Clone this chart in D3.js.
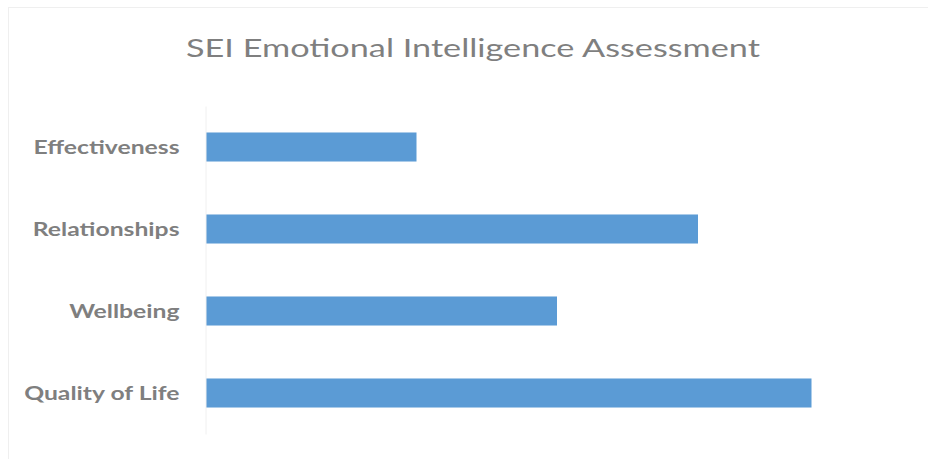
<!DOCTYPE html>
<html>
<head>
<meta charset="utf-8">
<script src="https://cdn.jsdelivr.net/npm/d3@7/dist/d3.min.js"></script>
<style>
  body { margin: 0; background: #fff; }
  text { font-family: Lato, "Open Sans", sans-serif; }
</style>
</head>
<body>
<div class="chart"></div>
<script>
// data (no axis ticks shown, so units are relative)
var categories = ["Effectiveness", "Relationships", "Wellbeing", "Quality of Life"];
var scores = [42.1, 98.4, 70.2, 121.1];

var svgWidth = 928;
var svgHeight = 459;

var margin = { top: 106, right: 22, bottom: 25, left: 206 };
var chartWidth = svgWidth - margin.left - margin.right;
var chartHeight = svgHeight - margin.top - margin.bottom;

var svg = d3.select(".chart")
  .append("svg")
  .attr("width", svgWidth)
  .attr("height", svgHeight);

// faint chart frame
svg.append("rect")
  .attr("x", 8.5)
  .attr("y", 7.5)
  .attr("width", 940)
  .attr("height", 470)
  .attr("fill", "none")
  .attr("stroke", "#efefef");

// title
svg.append("text")
  .attr("x", 473)
  .attr("y", 57)
  .attr("text-anchor", "middle")
  .attr("fill", "#7f7f7f")
  .style("font-size", "24.5px")
  .attr("textLength", 574)
  .attr("lengthAdjust", "spacingAndGlyphs")
  .text("SEI Emotional Intelligence Assessment");

var chartGroup = svg.append("g")
  .attr("transform", `translate(${margin.left}, ${margin.top})`);

var xScale = d3.scaleLinear()
  .domain([0, 140])
  .range([0, 700]);

var yScale = d3.scaleBand()
  .domain(categories)
  .range([0, chartHeight])
  .paddingInner(0.646)
  .paddingOuter(0.323);

// bars
chartGroup.selectAll("rect.bar")
  .data(categories)
  .enter()
  .append("rect")
  .attr("class", "bar")
  .attr("x", 0)
  .attr("y", d => yScale(d))
  .attr("width", (d, i) => xScale(scores[i]))
  .attr("height", yScale.bandwidth())
  .attr("fill", "#5b9bd5");

// category axis, no ticks
var leftAxis = d3.axisLeft(yScale).tickSize(0).tickPadding(26);
var yAxis = chartGroup.append("g")
  .attr("transform", "translate(-0.5, 0)")
  .call(leftAxis);

yAxis.select(".domain").attr("stroke", "#f0f0f0");

// labels are wider than the font gives, stretch them
var stretch = 1.3;
yAxis.selectAll("text")
  .attr("fill", "#7f7f7f")
  .style("font-size", "19px")
  .style("font-weight", "bold")
  .attr("dy", "0.36em")
  .each(function() {
    var w = this.getComputedTextLength();
    d3.select(this)
      .attr("textLength", w * stretch)
      .attr("lengthAdjust", "spacingAndGlyphs");
  });
</script>
</body>
</html>
